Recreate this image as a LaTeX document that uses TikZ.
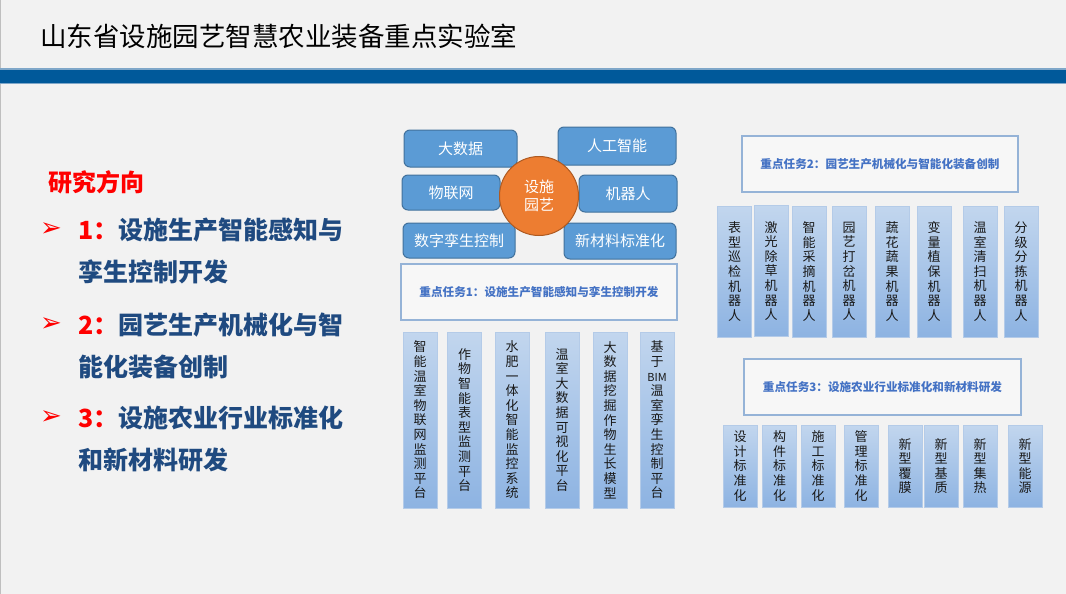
\documentclass[tikz,border=0pt]{standalone}
\usepackage{fontspec}
\setmainfont{Noto Sans CJK SC}
\newfontfamily\dejavu{DejaVu Sans}
\definecolor{bg}{HTML}{F2F2F2}
\definecolor{band}{HTML}{00599A}
\definecolor{bandedge}{HTML}{7FA7C9}
\definecolor{sfill}{HTML}{5B9BD5}
\definecolor{sline}{HTML}{41719C}
\definecolor{cfill}{HTML}{ED7D31}
\definecolor{cline}{HTML}{AE5A21}
\definecolor{tline}{HTML}{95B3D7}
\definecolor{tfill}{HTML}{F7F7F7}
\definecolor{ttext}{HTML}{4472C4}
\definecolor{vtop}{HTML}{C2D6EE}
\definecolor{vbot}{HTML}{8DB3E2}
\definecolor{vline}{HTML}{B4CBE8}
\definecolor{dirred}{HTML}{FF0000}
\definecolor{itemblue}{HTML}{1F4A80}
\tikzset{
  sbox/.style={draw=sline, fill=sfill, rounded corners=6pt, line width=1pt, text=white,
    font=\fontsize{15}{18}\selectfont, inner sep=0pt},
  tbox/.style={draw=tline, fill=tfill, line width=1.2pt, text=ttext,
    font=\fontsize{11.6}{14}\selectfont\bfseries, inner sep=0pt},
  vbox/.style={draw=vline, top color=vtop, bottom color=vbot, line width=0.8pt, align=center,
    font=\fontsize{13}{14.6}\selectfont, inner sep=0pt, text=black!90, minimum width=34pt},
  itemtxt/.style={anchor=west, inner sep=0pt, text=itemblue, font=\fontsize{25}{30}\selectfont\bfseries},
  bullet/.style={inner sep=0pt, text=dirred, font=\dejavu\fontsize{26}{30}\selectfont},
}
\begin{document}
\begin{tikzpicture}[x=1pt,y=-1pt]
\useasboundingbox (0,0) rectangle (1066,594);
\fill[bg] (0,0) rectangle (1066,594);
\fill[black!25] (0,0) rectangle (1.2,594);
\fill[bandedge] (0,68.5) rectangle (1066,84.5);
\fill[band] (0,70) rectangle (1066,83);

\node[anchor=west, inner sep=0pt, font=\fontsize{26.5}{30}\selectfont] (title) at (40,36) {山东省设施园艺智慧农业装备重点实验室};

% left column
\node[anchor=west, inner sep=0pt, text=dirred, font=\fontsize{24}{28}\selectfont\bfseries] (dir) at (48,182) {研究方向};
\node[bullet] (b1) at (51,230) {➢};
\node[itemtxt] (i1a) at (78,230) {\textcolor{dirred}{1：}设施生产智能感知与};
\node[itemtxt] (i1b) at (78,272) {孪生控制开发};
\node[bullet] (b2) at (51,325) {➢};
\node[itemtxt] (i2a) at (78,325) {\textcolor{dirred}{2：}园艺生产机械化与智};
\node[itemtxt] (i2b) at (78,367) {能化装备创制};
\node[bullet] (b3) at (51,418) {➢};
\node[itemtxt] (i3a) at (78,418) {\textcolor{dirred}{3：}设施农业行业标准化};
\node[itemtxt] (i3b) at (78,460) {和新材料研发};

% central cluster
\node[sbox, minimum width=113pt, minimum height=37pt] (dsj) at (460.5,148.5) {大数据};
\node[sbox, minimum width=118pt, minimum height=38pt] (rgzn) at (617,146) {人工智能};
\node[sbox, minimum width=98pt, minimum height=35pt] (wlw) at (451,192.5) {物联网};
\node[sbox, minimum width=98pt, minimum height=37pt] (jqr) at (628,193.5) {机器人};
\node[sbox, minimum width=112pt, minimum height=35pt] (szls) at (459,240.5) {数字孪生控制};
\node[sbox, minimum width=112pt, minimum height=36pt] (xcl) at (620,241) {新材料标准化};
\node[circle, draw=cline, fill=cfill, line width=1pt, minimum size=79pt, inner sep=0pt, text=white,
  align=center, font=\fontsize{15}{18.5}\selectfont] (core) at (539,196) {设施\\园艺};

% task 1
\node[tbox, minimum width=276pt, minimum height=56pt] (t1) at (539,292) {重点任务1：设施生产智能感知与孪生控制开发};
\node[vbox, minimum height=176pt] (p1) at (420,420) {智\\能\\温\\室\\物\\联\\网\\监\\测\\平\\台};
\node[vbox, minimum height=176pt] (p2) at (464.5,420) {作\\物\\智\\能\\表\\型\\监\\测\\平\\台};
\node[vbox, minimum height=176pt] (p3) at (512,420) {水\\肥\\一\\体\\化\\智\\能\\监\\控\\系\\统};
\node[vbox, minimum height=176pt] (p4) at (562,420) {温\\室\\大\\数\\据\\可\\视\\化\\平\\台};
\node[vbox, minimum height=176pt] (p5) at (610,420) {大\\数\\据\\挖\\掘\\作\\物\\生\\长\\模\\型};
\node[vbox, minimum height=176pt] (p6) at (657,420) {基\\于\\{\fontsize{11}{14.6}\selectfont BIM}\\温\\室\\孪\\生\\控\\制\\平\\台};

% task 2
\node[tbox, minimum width=276pt, minimum height=56pt] (t2) at (880,164) {重点任务2：园艺生产机械化与智能化装备创制};
\node[vbox, minimum height=131pt] (r1) at (734.5,271.5) {表\\型\\巡\\检\\机\\器\\人};
\node[vbox, minimum height=131pt] (r2) at (771,271) {激\\光\\除\\草\\机\\器\\人};
\node[vbox, minimum height=131pt] (r3) at (809,271.5) {智\\能\\采\\摘\\机\\器\\人};
\node[vbox, minimum height=131pt] (r4) at (849,271.5) {园\\艺\\打\\岔\\机\\器\\人};
\node[vbox, minimum height=131pt] (r5) at (892,271.5) {蔬\\花\\蔬\\果\\机\\器\\人};
\node[vbox, minimum height=131pt] (r6) at (934,271.5) {变\\量\\植\\保\\机\\器\\人};
\node[vbox, minimum height=131pt] (r7) at (980,271.5) {温\\室\\清\\扫\\机\\器\\人};
\node[vbox, minimum height=131pt] (r8) at (1021,271.5) {分\\级\\分\\拣\\机\\器\\人};

% task 3
\node[tbox, minimum width=277pt, minimum height=56pt] (t3) at (882.5,387) {重点任务3：设施农业行业标准化和新材料研发};
\node[vbox, minimum height=82pt] (s1) at (740,466) {设\\计\\标\\准\\化};
\node[vbox, minimum height=82pt] (s2) at (779.5,466) {构\\件\\标\\准\\化};
\node[vbox, minimum height=82pt] (s3) at (818,466) {施\\工\\标\\准\\化};
\node[vbox, minimum height=82pt] (s4) at (861,466) {管\\理\\标\\准\\化};
\node[vbox, minimum height=82pt] (s5) at (905,466) {新\\型\\覆\\膜};
\node[vbox, minimum height=82pt] (s6) at (941,466) {新\\型\\基\\质};
\node[vbox, minimum height=82pt] (s7) at (980,466) {新\\型\\集\\热};
\node[vbox, minimum height=82pt] (s8) at (1025,466) {新\\型\\能\\源};
\end{tikzpicture}
\end{document}
